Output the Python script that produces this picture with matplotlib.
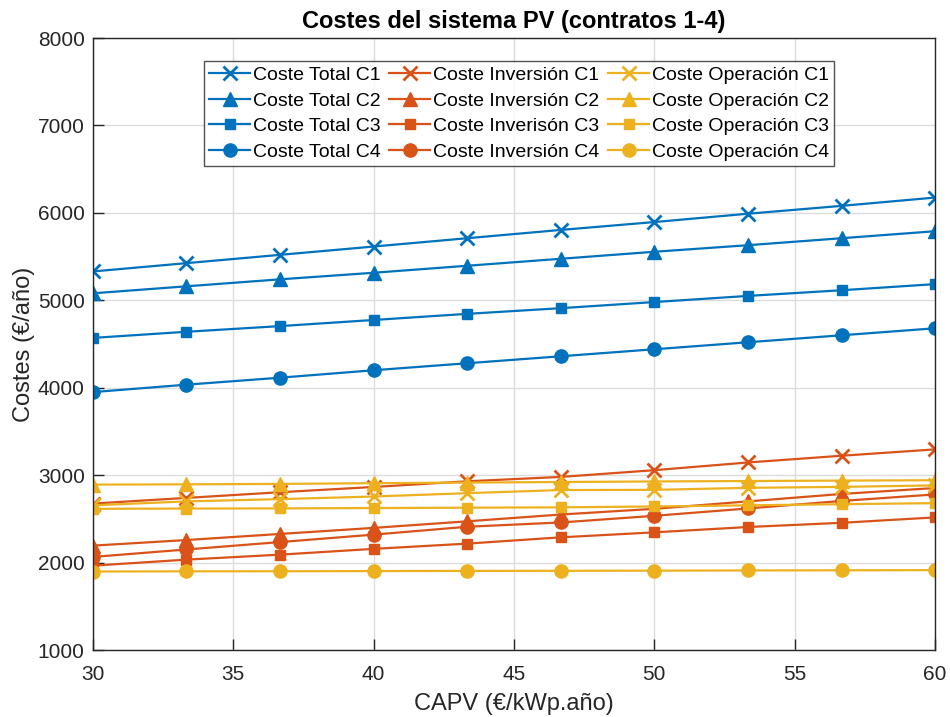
import matplotlib
matplotlib.use("Agg")
import matplotlib.pyplot as plt
import numpy as np

plt.rcParams['font.family'] = ['Liberation Sans', 'DejaVu Sans']

# CAPV values (€/kWp.año)
capv = [30, 33.33, 36.67, 40, 43.33, 46.67, 50, 53.33, 56.67, 60]

# Coste total por contrato
total_c1 = [5330, 5425, 5520, 5615, 5710, 5805, 5895, 5990, 6080, 6175]
total_c2 = [5080, 5160, 5240, 5315, 5395, 5475, 5555, 5630, 5710, 5790]
total_c3 = [4570, 4640, 4705, 4775, 4845, 4910, 4980, 5050, 5115, 5185]
total_c4 = [3950, 4035, 4115, 4200, 4280, 4360, 4440, 4520, 4600, 4680]

# Coste de inversión por contrato
inv_c1 = [2675, 2740, 2805, 2865, 2930, 2980, 3057, 3145, 3222, 3295]
inv_c2 = [2194, 2258, 2328, 2397, 2472, 2550, 2615, 2700, 2785, 2853]
inv_c3 = [1965, 2034, 2091, 2157, 2217, 2289, 2346, 2407, 2455, 2517]
inv_c4 = [2065, 2150, 2235, 2320, 2410, 2459, 2535, 2619, 2705, 2780]

# Coste de operación por contrato
op_c1 = [2655, 2700, 2726, 2756, 2794, 2830, 2832, 2855, 2866, 2883]
op_c2 = [2892, 2895, 2900, 2908, 2915, 2922, 2928, 2933, 2938, 2942]
op_c3 = [2615, 2618, 2620, 2624, 2628, 2632, 2642, 2655, 2668, 2680]
op_c4 = [1898, 1900, 1901, 1903, 1905, 1906, 1908, 1910, 1912, 1914]

blue = '#0072BD'
orange = '#D95319'
yellow = '#EDB120'

series = [
    ("Coste Total C1", total_c1, blue, 'x'),
    ("Coste Total C2", total_c2, blue, '^'),
    ("Coste Total C3", total_c3, blue, 's'),
    ("Coste Total C4", total_c4, blue, 'o'),
    ("Coste Inversión C1", inv_c1, orange, 'x'),
    ("Coste Inversión C2", inv_c2, orange, '^'),
    ("Coste Inverisón C3", inv_c3, orange, 's'),
    ("Coste Inversión C4", inv_c4, orange, 'o'),
    ("Coste Operación C1", op_c1, yellow, 'x'),
    ("Coste Operación C2", op_c2, yellow, '^'),
    ("Coste Operación C3", op_c3, yellow, 's'),
    ("Coste Operación C4", op_c4, yellow, 'o'),
]

# marker sizes roughly as in the MATLAB figure
msizes = {'x': 9.5, '^': 10, 's': 7.5, 'o': 9.5}

fig = plt.figure(figsize=(9.5, 7.17), dpi=100)
ax = fig.add_axes([0.0979, 0.0934, 0.8863, 0.8536])

for label, vals, color, marker in series:
    ax.plot(capv, vals, color=color, marker=marker, markersize=msizes[marker],
            markeredgewidth=2 if marker == 'x' else 1, linewidth=1.6, label=label)

ax.set_xlim(30, 60)
ax.set_ylim(1000, 8000)
ax.set_xticks(np.arange(30, 61, 5))
ax.set_yticks(np.arange(1000, 8001, 1000))

ax.grid(True, color='#dcdcdc', linewidth=1)
ax.set_axisbelow(True)
for s in ax.spines.values():
    s.set_color('#262626')
    s.set_linewidth(1)
ax.tick_params(direction='in', length=8, width=1, colors='#262626',
               labelsize=15, top=False, right=False)
ax.tick_params(axis='x', pad=11)
ax.tick_params(axis='y', pad=6)

ax.set_title("Costes del sistema PV (contratos 1-4)", fontsize=17,
             fontweight='bold', pad=7)
ax.set_xlabel("CAPV (€/kWp.año)", fontsize=17, color='#262626', labelpad=6)
ax.set_ylabel("Costes (€/año)", fontsize=17, color='#262626', labelpad=2)

leg = ax.legend(loc='upper center', bbox_to_anchor=(0.506, 0.962), ncol=3,
                fontsize=14, frameon=True, fancybox=False,
                edgecolor='#262626', handlelength=2.1, handletextpad=0.15,
                columnspacing=0.45, labelspacing=0.42, borderpad=0.25,
                borderaxespad=0)
leg.get_frame().set_linewidth(1)

fig.savefig("out.png", dpi=100)
